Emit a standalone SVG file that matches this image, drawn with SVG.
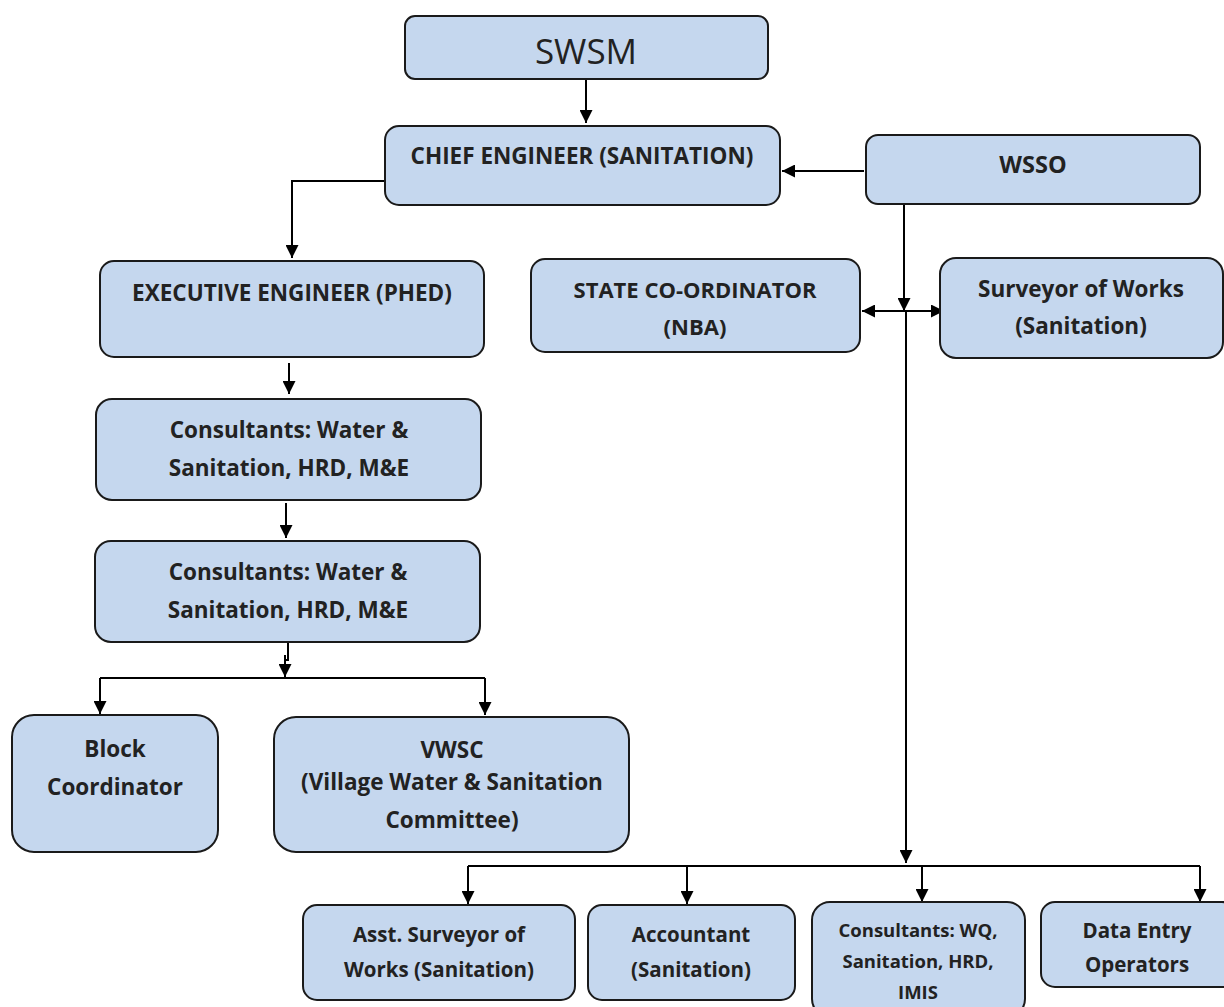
<svg xmlns="http://www.w3.org/2000/svg" width="1224" height="1007" viewBox="0 0 1224 1007">
<defs>
<marker id="ah2" viewBox="0 0 12 12" refX="12" refY="6" markerWidth="13" markerHeight="13" markerUnits="userSpaceOnUse" orient="auto-start-reverse"><path d="M0,0 L12,6 L0,12 z" fill="#000"/></marker>
</defs>
<style>
.n{fill:#c5d7ee;stroke:#1a1a1a;stroke-width:2}
.t{font-family:"Open Sans",Lato,sans-serif;font-weight:bold;font-size:22.5px;fill:#222;text-anchor:middle}
.u{font-size:20.5px}
.s{font-size:18.5px}
.c{fill:none;stroke:#000;stroke-width:2;marker-end:url(#ah2)}
.l{fill:none;stroke:#000;stroke-width:2}
</style>
<rect width="1224" height="1007" fill="#fff"/>
<g id="connectors">
<path class="c" d="M586,80 V123"/>
<path class="c" d="M864,171 H782"/>
<path class="c" d="M385,181 H292 V258"/>
<path class="c" d="M289,363 V394"/>
<path class="c" d="M286,503 V538"/>
<path class="l" d="M288,643 V660 H285"/>
<path class="c" d="M285,655 V677"/>
<path class="l" d="M100,678 H485"/>
<path class="c" d="M100,678 V714"/>
<path class="c" d="M485,678 V715"/>
<path class="c" d="M904,205 V311"/>
<path class="c" d="M902,311 H862"/>
<path class="c" d="M902,311 H944"/>
<path class="c" d="M906,311 V863"/>
<path class="l" d="M468,866 H1200"/>
<path class="c" d="M468,866 V904"/>
<path class="c" d="M687,866 V904"/>
<path class="c" d="M922,866 V902"/>
<path class="c" d="M1200,866 V902"/>
</g>
<g id="swsm"><rect class="n" x="405" y="16" width="363" height="63" rx="10"/><text x="586" y="64" style="font-family:'Open Sans',Lato,sans-serif;font-size:35px;fill:#222;text-anchor:middle">SWSM</text></g>
<g id="chief"><rect class="n" x="385" y="126" width="395" height="79" rx="14"/><text class="t" x="582" y="164">CHIEF ENGINEER (SANITATION)</text></g>
<g id="wsso"><rect class="n" x="866" y="135" width="334" height="69" rx="12"/><text class="t" x="1033" y="173" style="font-size:23.5px">WSSO</text></g>
<g id="ee"><rect class="n" x="100" y="261" width="384" height="96" rx="14"/><text class="t" x="292" y="301">EXECUTIVE ENGINEER (PHED)</text></g>
<g id="state"><rect class="n" x="531" y="259" width="329" height="93" rx="14"/><text class="t" x="695" y="298" style="font-size:22px">STATE CO-ORDINATOR</text><text class="t" x="695" y="335" style="font-size:22px">(NBA)</text></g>
<g id="surveyor"><rect class="n" x="940" y="258" width="283" height="100" rx="16"/><text class="t" x="1081" y="297">Surveyor of Works</text><text class="t" x="1081" y="334">(Sanitation)</text></g>
<g id="cons1"><rect class="n" x="96" y="399" width="385" height="101" rx="16"/><text class="t" x="289" y="438">Consultants: Water &amp;</text><text class="t" x="289" y="476">Sanitation, HRD, M&amp;E</text></g>
<g id="cons2"><rect class="n" x="95" y="541" width="385" height="101" rx="16"/><text class="t" x="288" y="580">Consultants: Water &amp;</text><text class="t" x="288" y="618">Sanitation, HRD, M&amp;E</text></g>
<g id="block"><rect class="n" x="12" y="715" width="206" height="137" rx="22"/><text class="t" x="115" y="757">Block</text><text class="t" x="115" y="795">Coordinator</text></g>
<g id="vwsc"><rect class="n" x="274" y="717" width="355" height="135" rx="22"/><text class="t" x="452" y="758">VWSC</text><text class="t" x="452" y="790">(Village Water &amp; Sanitation</text><text class="t" x="452" y="828">Committee)</text></g>
<g id="asst"><rect class="n" x="303" y="905" width="272" height="95" rx="14"/><text class="t u" x="439" y="942">Asst. Surveyor of</text><text class="t u" x="439" y="977">Works (Sanitation)</text></g>
<g id="accountant"><rect class="n" x="588" y="905" width="207" height="95" rx="14"/><text class="t u" x="691" y="942">Accountant</text><text class="t u" x="691" y="977">(Sanitation)</text></g>
<g id="conswq"><rect class="n" x="812" y="902" width="213" height="115" rx="18"/><text class="t s" x="918" y="937">Consultants: WQ,</text><text class="t s" x="918" y="968">Sanitation, HRD,</text><text class="t s" x="918" y="999">IMIS</text></g>
<g id="dataentry"><rect class="n" x="1041" y="902" width="195" height="85" rx="14"/><text class="t u" x="1137" y="938">Data Entry</text><text class="t u" x="1137" y="972">Operators</text></g>
</svg>
